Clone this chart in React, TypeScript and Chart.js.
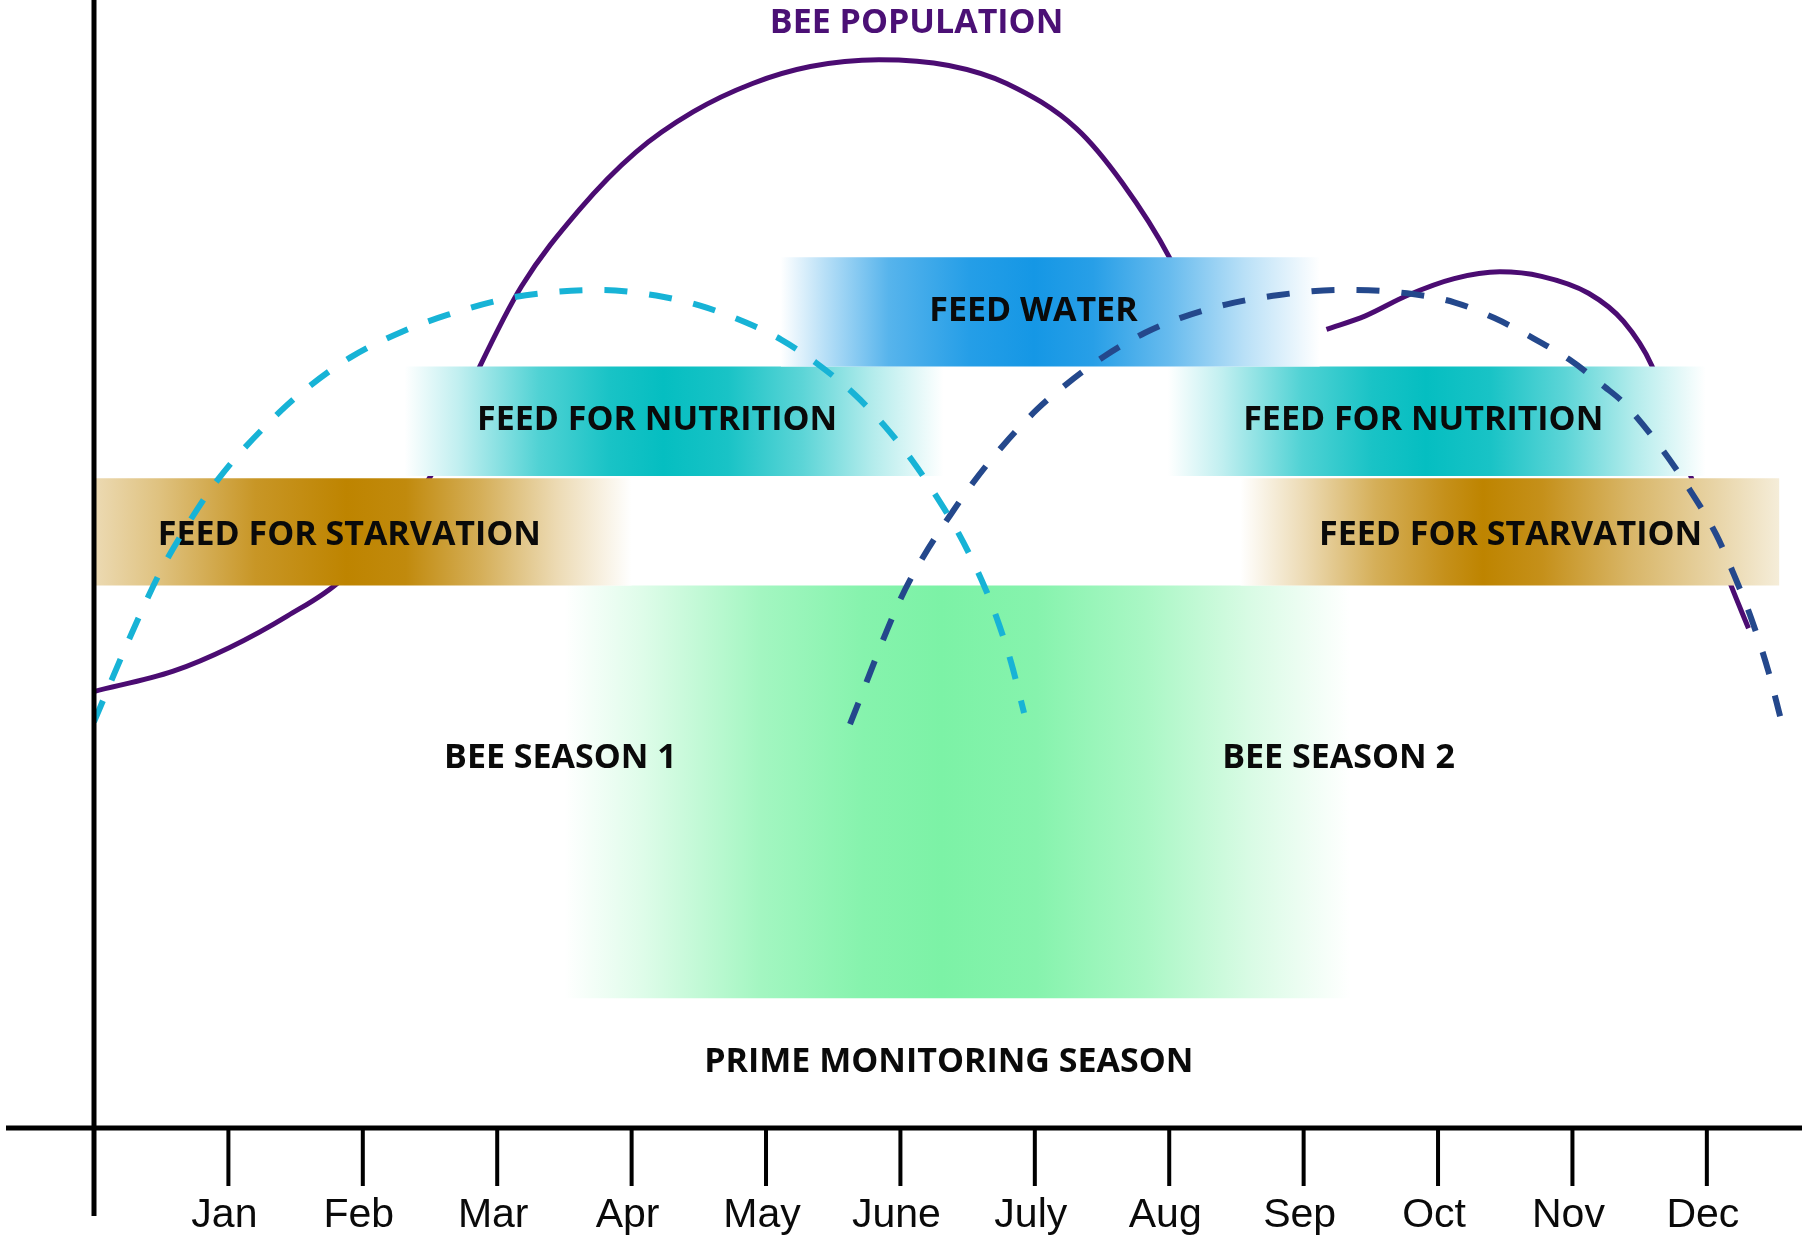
import { useEffect, useRef } from 'react';
import { Chart, registerables } from 'chart.js';

Chart.register(...registerables);

// ---------- data (x in months from the y-axis, y in relative units 0..100) ----------
const MONTHS = ['Jan', 'Feb', 'Mar', 'Apr', 'May', 'June', 'July', 'Aug', 'Sep', 'Oct', 'Nov', 'Dec'];
const MONTH_TICKS = [1, 2, 3, 4, 5, 6, 7, 8, 9, 10, 11, 12];
const X_MAX = 12.708;

// Bee population (solid purple), two visible pieces
const POPULATION_EARLY: [number, number][] = [
  [0, 38.7], [0.59, 40.5], [1.01, 42.6], [1.44, 45.4], [1.84, 48.6], [2.5, 57.7], [2.87, 67.5],
  [3.18, 74.6], [3.61, 81.4], [4.03, 86.5], [4.46, 90.1], [4.9, 92.6], [5.33, 94.1], [5.84, 94.7],
  [6.36, 94.2], [6.79, 92.6], [7.31, 88.6], [7.65, 83.8], [8.0, 77.2], [8.25, 70.5],
];
const POPULATION_LATE: [number, number][] = [
  [9.17, 70.8], [9.46, 72.0], [9.77, 73.8], [10.12, 75.3], [10.46, 75.9], [10.77, 75.5],
  [11.12, 74.0], [11.38, 71.5], [11.59, 67.6], [11.88, 57.8], [12.18, 48.1], [12.31, 44.3],
];

// Bee season 1 (cyan dashed)
const SEASON_1: [number, number][] = [
  [0, 36.0], [0.26, 43.3], [0.476, 48.9], [0.64, 52.4], [0.923, 57.5], [1.384, 63.5], [1.607, 65.8],
  [1.905, 68.3], [2.292, 70.6], [2.634, 72.1], [3.058, 73.5], [3.414, 74.1], [3.765, 74.3],
  [4.182, 73.8], [4.51, 72.9], [4.851, 71.4], [5.112, 69.9], [5.365, 67.9], [5.662, 65.0],
  [5.878, 62.3], [6.086, 59.2], [6.257, 56.2], [6.429, 52.8], [6.607, 48.5], [6.711, 45.4],
  [6.823, 41.3], [6.92, 36.8],
];

// Bee season 2 (navy dashed)
const SEASON_2: [number, number][] = [
  [5.625, 35.8], [5.997, 46.8], [6.168, 50.6], [6.369, 54.3], [6.54, 57.2], [6.756, 60.4],
  [7.016, 63.7], [7.21, 65.7], [7.515, 68.4], [7.82, 70.5], [8.08, 71.8], [8.42, 73.0],
  [8.817, 73.85], [9.293, 74.3], [9.77, 74.0], [10.12, 73.2], [10.42, 71.8], [10.68, 70.2],
  [10.98, 68.1], [11.24, 65.7], [11.38, 64.3], [11.64, 60.6], [11.85, 57.0], [12.07, 52.6],
  [12.2, 49.1], [12.33, 45.2], [12.46, 40.4], [12.545, 36.5],
];

// Feeding / monitoring bands
const BAND_NAMES = ['Feed water', 'Feed for nutrition 1', 'Feed for nutrition 2', 'Feed for starvation 1', 'Feed for starvation 2', 'Prime monitoring'];
const BAND_START = [5.11, 2.31, 7.99, 0, 8.53, 3.5];
const BAND_END = [9.12, 6.32, 11.99, 4.0, 12.54, 9.35];
const BAND_TOP = [77.2, 67.5, 67.5, 57.6, 57.6, 48.1];
const BAND_BOTTOM = [67.5, 57.8, 57.8, 48.1, 48.1, 11.5];

// Text annotations
const LABEL_TEXT = ['BEE POPULATION', 'FEED WATER', 'FEED FOR NUTRITION', 'FEED FOR NUTRITION', 'FEED FOR STARVATION', 'FEED FOR STARVATION', 'BEE SEASON 1', 'BEE SEASON 2', 'PRIME MONITORING SEASON'];
const LABEL_X = [6.12, 6.99, 4.19, 9.89, 1.9, 10.54, 3.47, 9.26, 6.36];
const LABEL_Y = [97.1, 71.5, 61.9, 61.9, 51.7, 51.7, 31.9, 31.9, 5.0];

// ---------- styles ----------
const PURPLE = '#4b0c72';
const CYAN = '#17b3d6';
const NAVY = '#24488c';
const BAND_COLORS = ['#1597e5', '#05bec1', '#05bec1', '#be8400', '#be8400', '#7cf2a6'];
const GENERIC_PROFILE: [number, number][] = [[0, 0], [0.1, 0.25], [0.25, 0.7], [0.38, 0.92], [0.48, 1], [0.6, 0.92], [0.74, 0.65], [0.87, 0.3], [1, 0]];
const BAND_PROFILES: [number, number][][] = [
  [[0, 0], [0.08, 0.3], [0.2, 0.72], [0.35, 0.93], [0.47, 1], [0.58, 0.92], [0.72, 0.65], [0.86, 0.3], [1, 0]],
  GENERIC_PROFILE,
  GENERIC_PROFILE,
  [[0, 0.3], [0.12, 0.5], [0.3, 0.85], [0.47, 1], [0.58, 0.95], [0.72, 0.65], [0.86, 0.3], [1, 0]],
  [[0, 0], [0.12, 0.3], [0.25, 0.65], [0.38, 0.9], [0.45, 1], [0.56, 0.9], [0.72, 0.6], [0.88, 0.35], [1, 0.15]],
  GENERIC_PROFILE,
];

function tint(hex: string, t: number): string {
  const n = parseInt(hex.slice(1), 16);
  const r = (n >> 16) & 255, g = (n >> 8) & 255, b = n & 255;
  const mix = (c: number) => Math.round(255 - (255 - c) * t);
  return `rgb(${mix(r)},${mix(g)},${mix(b)})`;
}

function bandFill(i: number) {
  return (ctx: any) => {
    const chart = ctx.chart;
    const xs = chart.scales?.x;
    if (!chart.chartArea || !xs) return BAND_COLORS[i];
    const x0 = xs.getPixelForValue(BAND_START[i]);
    const x1 = xs.getPixelForValue(BAND_END[i]);
    const g = chart.ctx.createLinearGradient(x0, 0, x1, 0);
    for (const [p, t] of BAND_PROFILES[i]) g.addColorStop(p, tint(BAND_COLORS[i], t));
    return g;
  };
}

const toXY = (pts: [number, number][]) => pts.map(([x, y]) => ({ x, y }));

const overlayPlugin = {
  id: 'overlay',
  beforeDatasetDraw(chart: any, args: any) {
    if (args.index !== 1) return;
    const { ctx, scales } = chart;
    ctx.save();
    ctx.font = 'bold 34px "Open Sans"';
    ctx.textAlign = 'center';
    ctx.textBaseline = 'alphabetic';
    LABEL_TEXT.forEach((t, i) => {
      ctx.fillStyle = i === 0 ? '#4b1075' : '#0a0a0a';
      ctx.fillText(t, scales.x.getPixelForValue(LABEL_X[i]), scales.y.getPixelForValue(LABEL_Y[i]));
    });
    ctx.restore();
  },
  afterDraw(chart: any) {
    const { ctx, scales } = chart;
    const xs = scales.x, ys = scales.y;
    const x0 = xs.getPixelForValue(0);
    const y0 = ys.getPixelForValue(0);
    ctx.save();
    ctx.strokeStyle = '#000';
    ctx.lineCap = 'butt';
    ctx.lineWidth = 5;
    ctx.beginPath();
    ctx.moveTo(x0 - 88, y0);
    ctx.lineTo(xs.getPixelForValue(X_MAX), y0);
    ctx.moveTo(x0, ys.getPixelForValue(100));
    ctx.lineTo(x0, y0 + 88);
    ctx.stroke();
    ctx.lineWidth = 4;
    ctx.beginPath();
    MONTH_TICKS.forEach((v) => {
      const px = xs.getPixelForValue(v);
      ctx.moveTo(px, y0);
      ctx.lineTo(px, y0 + 58);
    });
    ctx.stroke();
    ctx.fillStyle = '#0a0a0a';
    ctx.font = '41px "Liberation Sans"';
    ctx.textAlign = 'center';
    ctx.textBaseline = 'alphabetic';
    MONTH_TICKS.forEach((v, i) => {
      ctx.fillText(MONTHS[i], xs.getPixelForValue(v) - 4, y0 + 99);
    });
    ctx.restore();
  },
};

const curve = (label: string, pts: any[], color: string, width: number, dash: number[], order: number) => ({
  label,
  data: pts,
  borderColor: color,
  borderWidth: width,
  borderDash: dash,
  borderCapStyle: 'butt',
  borderJoinStyle: 'round',
  pointRadius: 0,
  fill: false,
  spanGaps: false,
  cubicInterpolationMode: 'monotone',
  order,
});

export default function App() {
  const ref = useRef<HTMLCanvasElement | null>(null);
  useEffect(() => {
    if (!ref.current) return;
    const bandSets = BAND_NAMES.map((name, i) => ({
      label: name,
      data: [{ x: BAND_START[i], y: BAND_TOP[i] }, { x: BAND_END[i], y: BAND_TOP[i] }],
      borderColor: 'rgba(0,0,0,0)',
      borderWidth: 0,
      pointRadius: 0,
      fill: { value: BAND_BOTTOM[i] },
      backgroundColor: bandFill(i),
      order: 1,
    }));
    const chart = new Chart(ref.current, {
      type: 'line',
      data: {
        datasets: [
          curve('Bee season 1', toXY(SEASON_1), CYAN, 6, [23, 22], 0),
          curve('Bee season 2', toXY(SEASON_2), NAVY, 6, [23, 22], 0),
          ...bandSets,
          curve('Bee population', [...toXY(POPULATION_EARLY), { x: 8.7, y: null }, ...toXY(POPULATION_LATE)], PURPLE, 5, [], 2),
        ] as any,
      },
      options: {
        animation: false,
        responsive: false,
        devicePixelRatio: 1,
        events: [],
        layout: { padding: { left: 94, right: 12, top: 0, bottom: 108 } },
        scales: {
          x: { type: 'linear', min: 0, max: X_MAX, display: false },
          y: { type: 'linear', min: 0, max: 100, display: false },
        },
        plugins: { legend: { display: false }, tooltip: { enabled: false } },
      },
      plugins: [overlayPlugin],
    });
    return () => chart.destroy();
  }, []);
  return (
    <div style={{ position: 'absolute', left: 0, top: 0, width: 1814, height: 1236, background: '#fff' }}>
      <canvas ref={ref} width={1814} height={1236} style={{ width: 1814, height: 1236, display: 'block' }} />
    </div>
  );
}
